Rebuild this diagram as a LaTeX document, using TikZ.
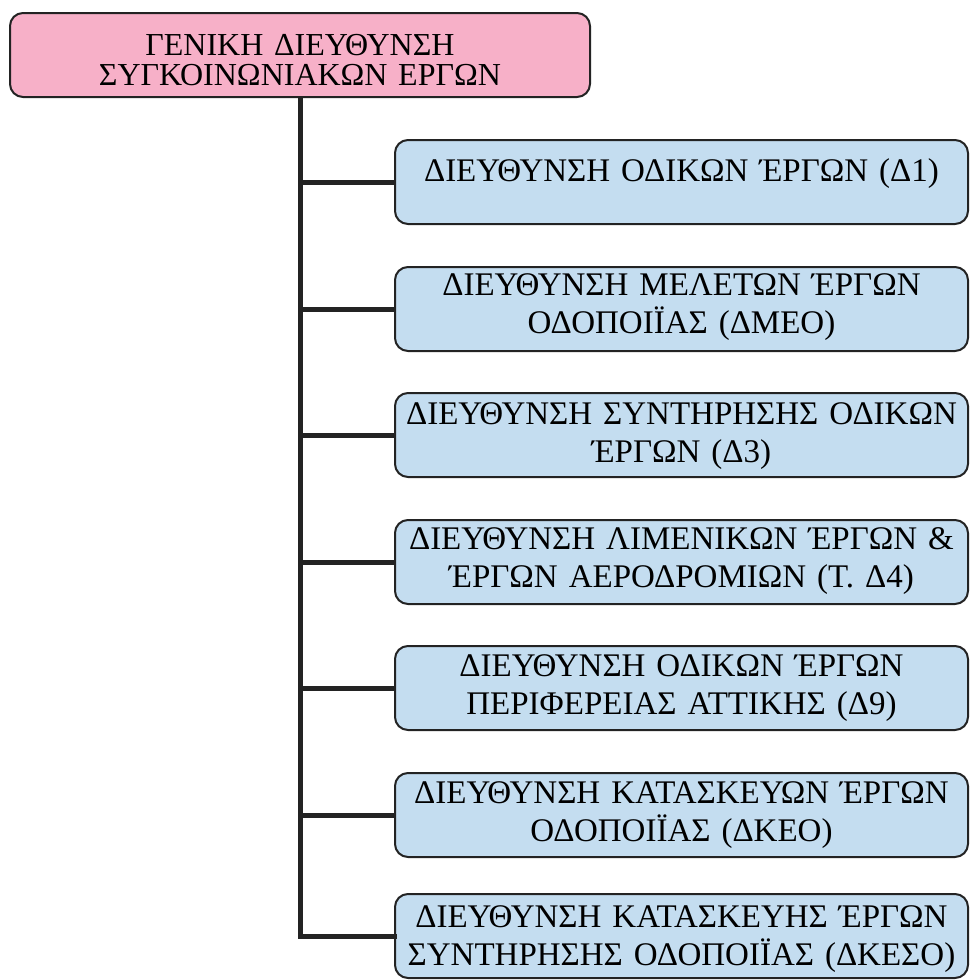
\documentclass[tikz,border=0pt]{standalone}
\usepackage{fontspec}
\setmainfont{Liberation Serif}
\definecolor{headpink}{RGB}{247,176,200}
\definecolor{unitblue}{RGB}{196,221,240}
\definecolor{edgegray}{RGB}{35,35,35}
\begin{document}
\begin{tikzpicture}[x=1pt,y=-1pt,
  headbox/.style={draw=edgegray,line width=2pt,rounded corners=13pt,fill=headpink,
    minimum width=580pt,minimum height=84pt,inner sep=0pt},
  unitbox/.style={draw=edgegray,line width=2pt,rounded corners=13pt,fill=unitblue,
    minimum width=573pt,minimum height=84pt,inner sep=0pt},
  headtext/.style={text width=570pt,align=center,inner sep=0pt,
    font=\fontsize{32}{30}\selectfont},
  unittext/.style={text width=565pt,align=center,inner sep=0pt,
    font=\fontsize{33}{38}\selectfont},
  link/.style={draw=edgegray,line width=5pt}]
\useasboundingbox (0,0) rectangle (970,980);
% head of the organisation
\node[headbox] (head) at (300,55) {};
\node[headtext] (headt) at (300,60) {ΓΕΝΙΚΗ ΔΙΕΥΘΥΝΣΗ\\ΣΥΓΚΟΙΝΩΝΙΑΚΩΝ ΕΡΓΩΝ};
% directorates: frames
\node[unitbox] (d1) at (681.5,182) {};
\node[unitbox] (d2) at (681.5,309) {};
\node[unitbox] (d3) at (681.5,435) {};
\node[unitbox] (d4) at (681.5,562) {};
\node[unitbox] (d5) at (681.5,688) {};
\node[unitbox] (d6) at (681.5,815) {};
\node[unitbox] (d7) at (681.5,936) {};
% directorates: names
\node[unittext] (d1t) at (681.5,174) {ΔΙΕΥΘΥΝΣΗ ΟΔΙΚΩΝ ΈΡΓΩΝ (Δ1)};
\node[unittext] (d2t) at (681.5,307) {ΔΙΕΥΘΥΝΣΗ ΜΕΛΕΤΩΝ ΈΡΓΩΝ\\ΟΔΟΠΟΙΪΑΣ (ΔΜΕΟ)};
\node[unittext] (d3t) at (681.5,436) {ΔΙΕΥΘΥΝΣΗ ΣΥΝΤΗΡΗΣΗΣ ΟΔΙΚΩΝ\\ΈΡΓΩΝ (Δ3)};
\node[unittext] (d4t) at (681.5,561) {ΔΙΕΥΘΥΝΣΗ ΛΙΜΕΝΙΚΩΝ ΈΡΓΩΝ \&\\ΈΡΓΩΝ ΑΕΡΟΔΡΟΜΙΩΝ (Τ. Δ4)};
\node[unittext] (d5t) at (681.5,688) {ΔΙΕΥΘΥΝΣΗ ΟΔΙΚΩΝ ΈΡΓΩΝ\\ΠΕΡΙΦΕΡΕΙΑΣ ΑΤΤΙΚΗΣ (Δ9)};
\node[unittext] (d6t) at (681.5,815) {ΔΙΕΥΘΥΝΣΗ ΚΑΤΑΣΚΕΥΩΝ ΈΡΓΩΝ\\ΟΔΟΠΟΙΪΑΣ (ΔΚΕΟ)};
\node[unittext] (d7t) at (681.5,939) {ΔΙΕΥΘΥΝΣΗ ΚΑΤΑΣΚΕΥΗΣ ΈΡΓΩΝ\\ΣΥΝΤΗΡΗΣΗΣ ΟΔΟΠΟΙΪΑΣ (ΔΚΕΣΟ)};
% trunk and branches
\draw[link,line cap=rect] (head.south) -- (head.south |- d7.west) -- (d7.west);
\foreach \d in {d1,d2,d3,d4,d5,d6}
  \draw[link] (head.south |- \d.west) -- (\d.west);
\end{tikzpicture}
\end{document}
